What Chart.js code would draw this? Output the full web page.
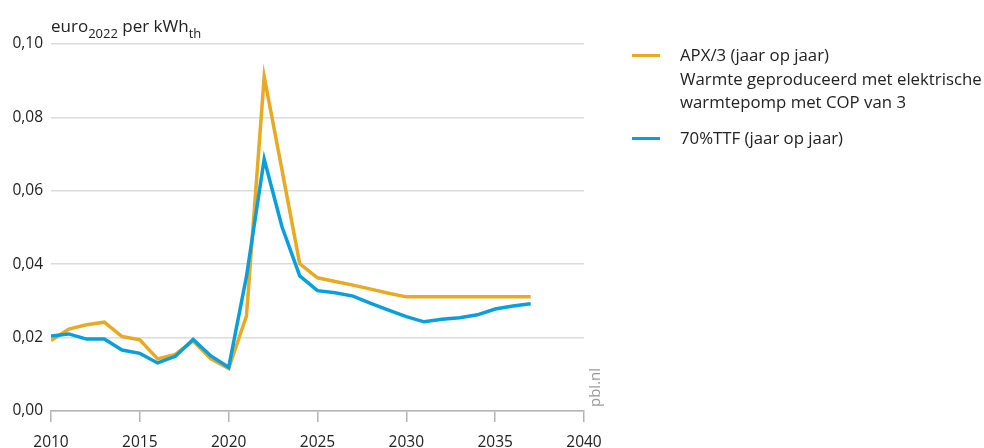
<!DOCTYPE html>
<html lang="nl">
<head>
    <meta charset="UTF-8">
    <title>Warmteprijs APX en TTF</title>
    <script src="https://cdn.jsdelivr.net/npm/chart.js"></script>
    <style>
        body {
            margin: 0;
            background: #fff;
            font-family: "Open Sans", sans-serif;
            color: #222;
        }
        #wrap {
            position: relative;
            width: 984px;
            height: 448px;
        }
        #yTitle {
            position: absolute;
            left: 51px;
            top: 14px;
            font-size: 17px;
            white-space: nowrap;
        }
        #yTitle sub {
            font-size: 13px;
            vertical-align: -6px;
            line-height: 0;
        }
        #legend {
            position: absolute;
            left: 632px;
            top: 43px;
            font-size: 16.8px;
            line-height: 23.5px;
        }
        .item {
            position: relative;
            padding-left: 48px;
            margin-bottom: 12px;
            white-space: nowrap;
        }
        .swatch {
            position: absolute;
            left: 0;
            top: 11px;
            width: 28px;
            height: 3px;
        }
    </style>
</head>
<body>
    <div id="wrap">
        <canvas id="priceChart" width="984" height="448"></canvas>
        <div id="yTitle">euro<sub>2022</sub> per kWh<sub>th</sub></div>
        <div id="legend"></div>
    </div>

    <script>
        // jaren en waarden (euro2022 per kWh thermisch)
        const years = [2010, 2011, 2012, 2013, 2014, 2015, 2016, 2017, 2018, 2019,
                       2020, 2021, 2022, 2023, 2024, 2025, 2026, 2027, 2028, 2029,
                       2030, 2031, 2032, 2033, 2034, 2035, 2036, 2037];

        const apx = [0.0192, 0.0223, 0.0235, 0.0242, 0.0203, 0.0194, 0.0142, 0.0154, 0.0191, 0.0142,
                     0.0116, 0.0259, 0.0911, 0.0657, 0.0401, 0.0363, 0.0353, 0.0343, 0.0332, 0.0321,
                     0.0311, 0.0311, 0.0311, 0.0311, 0.0311, 0.0311, 0.0311, 0.0311];

        const ttf = [0.0204, 0.0210, 0.0196, 0.0196, 0.0166, 0.0157, 0.0131, 0.0149, 0.0195, 0.0150,
                     0.0119, 0.0366, 0.0686, 0.0502, 0.0368, 0.0328, 0.0322, 0.0313, 0.0293, 0.0275,
                     0.0257, 0.0243, 0.0250, 0.0254, 0.0262, 0.0278, 0.0286, 0.0292];

        const apxLabel = ['APX/3 (jaar op jaar)', 'Warmte geproduceerd met elektrische', 'warmtepomp met COP van 3'];
        const ttfLabel = ['70%TTF (jaar op jaar)'];

        const xTicks = [2010, 2015, 2020, 2025, 2030, 2035, 2040];
        const yTicks = [0, 0.02, 0.04, 0.06, 0.08, 0.10];

        const ORANGE = '#e8aa22';
        const BLUE = '#0a9fdc';
        const FONT = '"Open Sans", sans-serif';

        // bron-tekstje rechtsonder
        const sourcePlugin = {
            id: 'sourceText',
            afterDraw(chart) {
                const c = chart.ctx;
                c.save();
                c.translate(600, 407);
                c.rotate(-Math.PI / 2);
                c.font = '15px ' + FONT;
                c.fillStyle = '#9a9a9a';
                c.textAlign = 'left';
                c.textBaseline = 'alphabetic';
                c.fillText('pbl.nl', 0, 0);
                c.restore();
            }
        };

        const ctx = document.getElementById('priceChart').getContext('2d');
        const priceChart = new Chart(ctx, {
            type: 'line',
            data: {
                datasets: [
                    {
                        label: apxLabel,
                        data: years.map((y, i) => ({ x: y, y: apx[i] })),
                        borderColor: ORANGE,
                        borderWidth: 3.5,
                        pointRadius: 0,
                        tension: 0,
                        order: 1
                    },
                    {
                        label: ttfLabel,
                        data: years.map((y, i) => ({ x: y, y: ttf[i] })),
                        borderColor: BLUE,
                        borderWidth: 3.5,
                        pointRadius: 0,
                        tension: 0,
                        order: 0
                    }
                ]
            },
            options: {
                responsive: false,
                animation: false,
                layout: { padding: { top: 44, right: 400, left: 0, bottom: 0 } },
                plugins: {
                    legend: { display: false },
                    tooltip: { enabled: false }
                },
                scales: {
                    x: {
                        type: 'linear',
                        min: 2010,
                        max: 2040,
                        afterBuildTicks: s => { s.ticks = xTicks.map(v => ({ value: v })); },
                        afterFit: s => { s.height = 37; },
                        grid: {
                            drawOnChartArea: false,
                            drawTicks: true,
                            tickLength: 11,
                            color: '#b4b4b4',
                            lineWidth: 1.5
                        },
                        border: { display: true, color: '#b4b4b4', width: 1.5 },
                        ticks: {
                            padding: 11,
                            maxRotation: 0,
                            color: '#222',
                            font: { family: FONT, size: 15.5 },
                            callback: v => String(v)
                        }
                    },
                    y: {
                        min: 0,
                        max: 0.1,
                        afterBuildTicks: s => { s.ticks = yTicks.map(v => ({ value: v })); },
                        afterFit: s => { s.width = 51; },
                        grid: { drawTicks: false, color: '#dcdcdc', lineWidth: 1.5 },
                        border: { display: false },
                        ticks: {
                            padding: 8,
                            color: '#222',
                            font: { family: FONT, size: 15.5 },
                            callback: v => v.toFixed(2).replace('.', ',')
                        }
                    }
                }
            },
            plugins: [sourcePlugin]
        });

        // legenda naast de grafiek
        const legend = document.getElementById('legend');
        priceChart.data.datasets.forEach(ds => {
            const item = document.createElement('div');
            item.className = 'item';
            const sw = document.createElement('span');
            sw.className = 'swatch';
            sw.style.background = ds.borderColor;
            item.appendChild(sw);
            item.insertAdjacentHTML('beforeend', ds.label.join('<br>'));
            legend.appendChild(item);
        });
    </script>
</body>
</html>
